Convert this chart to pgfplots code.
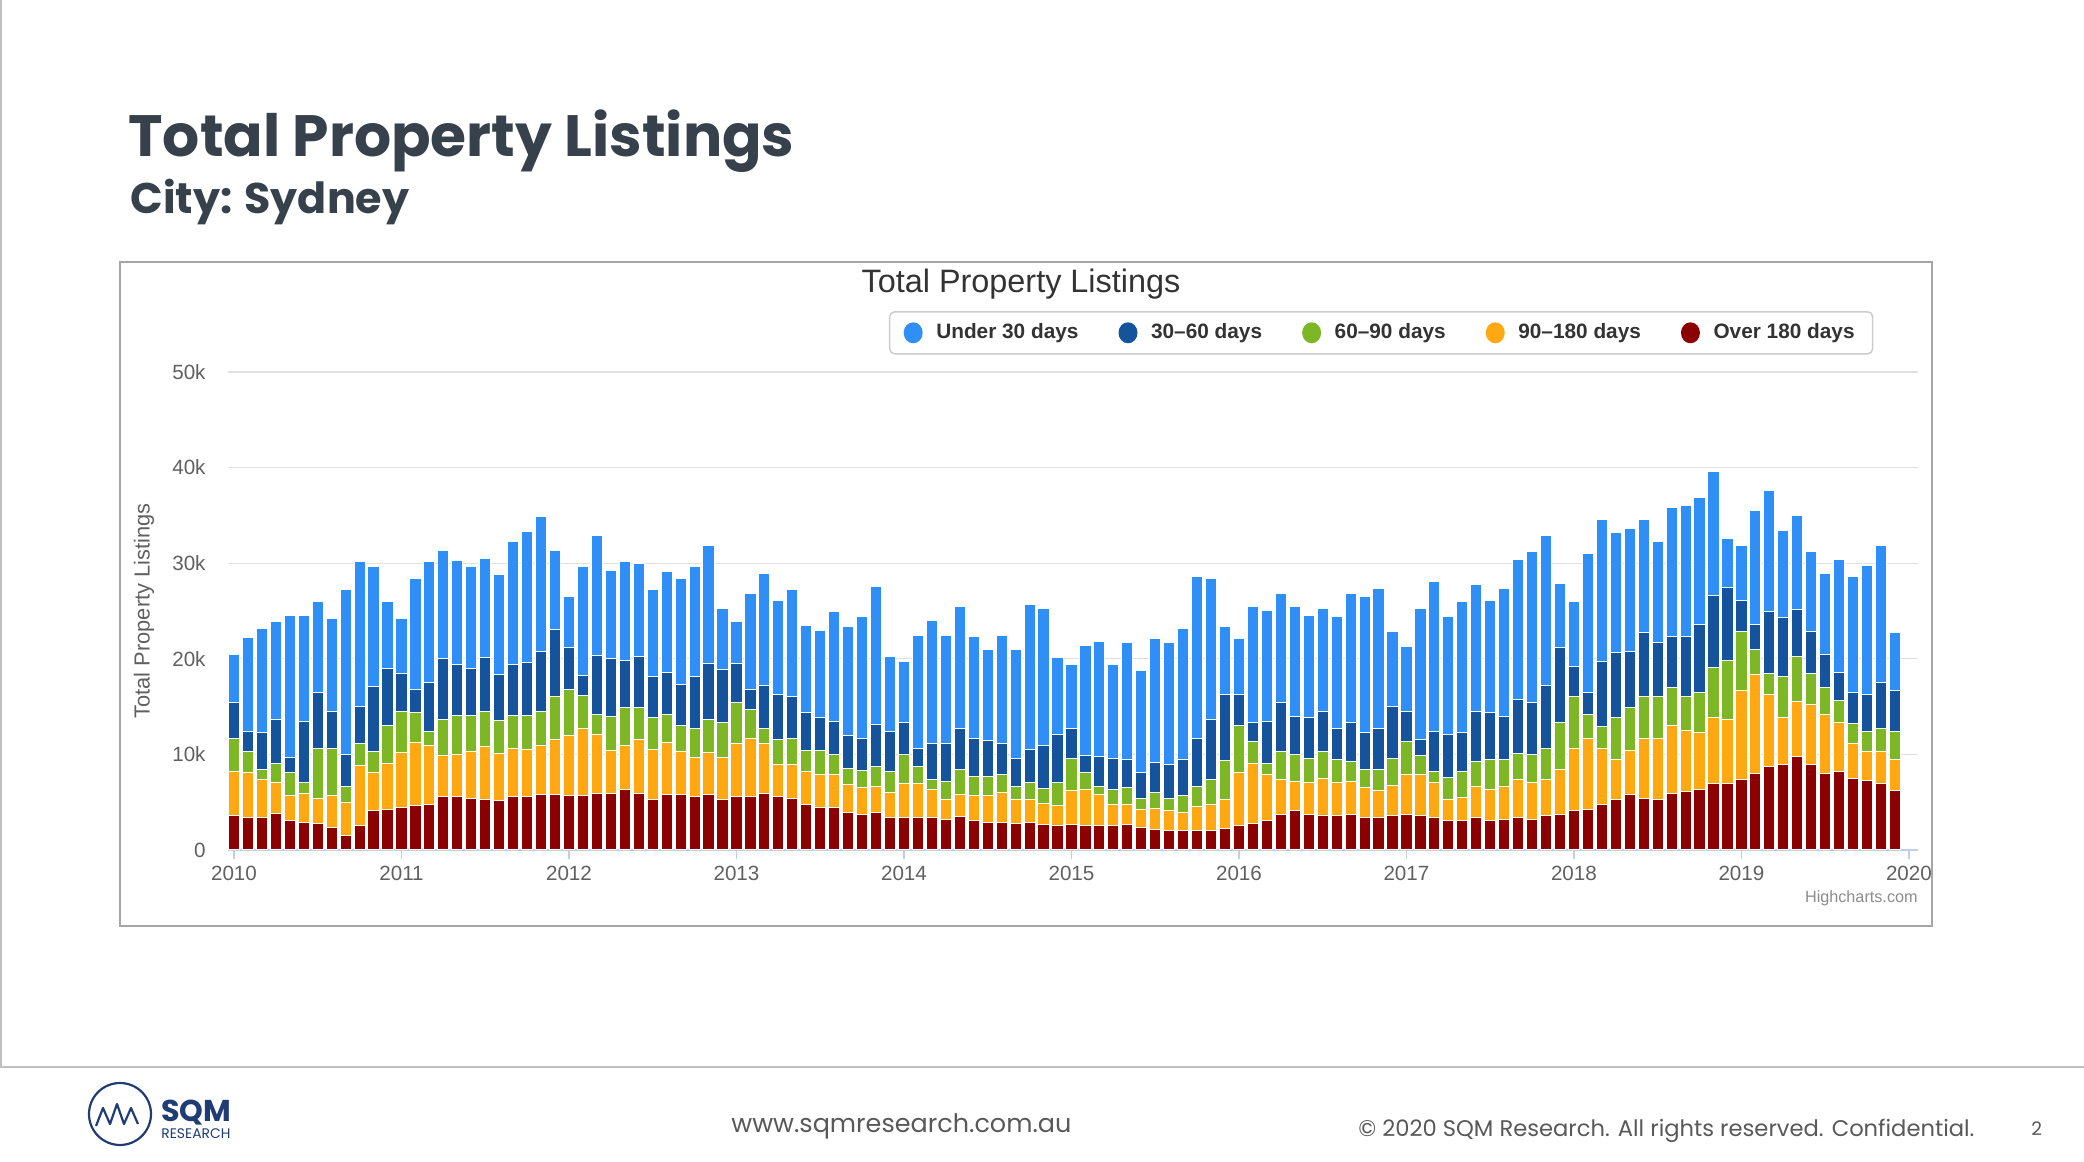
\documentclass[border=0pt]{standalone}
\usepackage{pgfplots}
\pgfplotsset{compat=1.18}
\usepackage{pgfplotstable}
\usepackage{graphicx}
\usepackage{fontspec}
\setmainfont{Liberation Sans}
\newfontfamily\slidefont{Poppins}
\definecolor{cU}{HTML}{2F8FF7}
\definecolor{cD}{HTML}{15539C}
\definecolor{cG}{HTML}{7DB725}
\definecolor{cO}{HTML}{FFA811}
\definecolor{cR}{HTML}{8B0000}
\definecolor{titlec}{HTML}{36414B}
\definecolor{axisc}{HTML}{C0D0E0}
\definecolor{gridc}{HTML}{E0E0E0}
\definecolor{labelc}{HTML}{606060}
\definecolor{legc}{HTML}{CCCCCC}
\definecolor{navy}{HTML}{1F3C75}
\definecolor{footc}{HTML}{595959}
\definecolor{framec}{HTML}{A6A6A6}

\pgfplotstableread{
x r o g d u
0 3570 4650 3490 3670 5070
1 3390 4720 2200 2100 9790
2 3390 4020 980 3850 10940
3 3780 3280 1960 4620 10240
4 3080 2650 2380 1580 14890
5 2870 3000 1190 6400 11120
6 2730 2620 5310 5770 9550
7 2380 3280 5000 3850 9720
8 1500 3470 1670 3330 17230
9 2550 6260 2380 3840 15110
10 4090 4020 2200 6820 12490
11 4270 4750 3980 5950 7030
12 4440 5770 4300 3920 5800
13 4620 6640 3080 2440 11650
14 4790 6120 1500 5140 12620
15 5590 4270 3780 6360 11360
16 5590 4440 4030 5350 10900
17 5420 4890 3750 4890 10670
18 5310 5530 3670 5590 10420
19 5140 5000 3390 4830 10420
20 5590 5070 3400 5350 12830
21 5590 4900 3570 5590 13640
22 5770 5140 3600 6290 14060
23 5770 5840 4470 7000 8280
24 5660 6300 4820 4370 5350
25 5660 7100 3390 2100 11400
26 5940 6190 2030 6190 12520
27 5940 4440 3610 6010 9270
28 6290 4620 3950 5000 10280
29 5940 5670 3250 5350 9790
30 5310 5250 3250 4300 9090
31 5770 5490 2900 4440 10490
32 5770 4540 2690 4310 11120
33 5590 4100 3070 5350 11540
34 5770 4440 3430 5840 12410
35 5240 4450 3600 5590 6400
36 5590 5600 4190 4100 4400
37 5590 6120 2980 2090 10070
38 5940 5250 1570 4480 11710
39 5590 3330 2690 4650 9890
40 5420 3500 2790 4370 11120
41 4790 3430 2160 4030 9120
42 4440 3500 2440 3500 9120
43 4440 3500 2090 3430 11470
44 3920 2970 1680 3390 11400
45 3740 2800 1750 3420 12700
46 3920 2720 2100 4370 14440
47 3390 2620 2210 4190 7870
48 3390 3600 2980 3320 6470
49 3390 3600 1750 1920 11820
50 3390 2900 1050 3780 12900
51 3220 2090 1860 4020 11290
52 3500 2270 2620 4370 12690
53 3040 2620 2030 4020 10600
54 2870 2790 2030 3740 9550
55 2870 3140 1860 3320 11290
56 2730 2510 1400 2980 11360
57 2870 2440 1750 3430 15140
58 2690 2210 1570 4440 14370
59 2520 2100 2440 5000 8040
60 2690 3500 3430 3140 6650
61 2520 3840 1750 1750 11570
62 2520 3320 800 3150 12060
63 2520 2270 1570 3260 9790
64 2690 2100 1750 2900 12240
65 2380 1820 1220 2690 10700
66 2170 2200 1640 3150 12970
67 2030 2100 1290 3500 12760
68 2030 1890 1740 3780 13740
69 2030 2520 2090 5070 16890
70 2030 2690 2690 6230 14790
71 2270 3040 4030 6920 7100
72 2520 5590 4890 3260 5870
73 2730 6360 2270 1930 12160
74 3040 4830 1220 4370 11640
75 3740 3600 2970 5070 11470
76 4090 3080 2860 3960 11460
77 3740 3320 2560 4190 10770
78 3570 3950 2790 4200 10770
79 3570 3490 2450 3250 11650
80 3740 3430 2100 4020 13560
81 3390 3150 1850 3920 14190
82 3390 2800 2200 4370 14620
83 3570 3140 2910 5410 7800
84 3740 4130 3490 3150 6820
85 3570 4300 1990 1750 13670
86 3390 3670 1160 4190 15630
87 3040 2270 2280 4470 12350
88 3040 2450 2730 4020 13740
89 3390 3250 2630 5240 13220
90 3040 3320 3080 4900 11810
91 3220 3420 2800 4550 13390
92 3390 3950 2800 5590 14620
93 3220 3840 2910 5410 15810
94 3570 3840 3250 6540 15740
95 3740 4720 4830 7860 6750
96 4090 6570 5420 3150 6750
97 4270 7440 2450 2340 14510
98 4720 5940 2280 6820 14860
99 5240 4270 4300 6820 12590
100 5770 4610 4480 5940 12840
101 5420 6290 4370 6650 11890
102 5240 6470 4370 5600 10560
103 5940 7060 3960 5420 13460
104 6120 6360 3600 6300 13630
105 6290 5950 4260 7100 13290
106 6990 6820 5320 7440 13050
107 6990 6650 6220 7590 5140
108 7340 9370 6190 3250 5740
109 8040 10320 2620 2620 11890
110 8740 7520 2200 6440 12690
111 8920 4890 4300 6190 9160
112 9790 5770 4650 4960 9800
113 8920 6290 3250 4440 8290
114 8040 6120 2800 3490 8500
115 8220 5070 2370 2940 11750
116 7520 3670 2030 3280 12100
117 7270 3040 2100 3850 13530
118 6990 3320 2450 4790 14340
119 6190 3320 2900 4300 6020
}\listings

\begin{document}
\begin{tikzpicture}
\path[use as bounding box] (0,0) rectangle (1042pt,581pt);
\fill[white] (0,0) rectangle (1042pt,581pt);
\begin{scope}[shift={(0pt,581pt)}, x=0.5pt, y=-0.5pt]
  % slide frame lines
  \draw[color=black!25, line width=0.6pt] (1,0) -- (1,1067);
  \draw[color=black!25, line width=0.9pt] (0,1067) -- (2084,1067);
  % slide title
  \node[anchor=base west, inner sep=0pt, text=titlec] at (128,157)
    {\resizebox{333pt}{!}{\slidefont\bfseries Total Property Listings}};
  \node[anchor=base west, inner sep=0pt, text=titlec] at (130,214)
    {\resizebox{139.5pt}{!}{\slidefont\bfseries City: Sydney}};
  % chart frame
  \draw[framec, line width=0.9pt] (120,262) rectangle (1932,926);
  % chart title
  \node[anchor=base, inner sep=0pt, text=black!80] at (1021,293)
    {\fontsize{16.2}{18}\selectfont Total Property Listings};
  \node[anchor=base east, inner sep=0pt, text=black!45] at (1918,903)
    {\fontsize{8.1}{9}\selectfont Highcharts.com};
  % footer
  \draw[navy, line width=1.1pt] (120,1114) circle (15.5pt);
  \draw[navy, line width=1.1pt, line join=round]
    (96,1126) -- (103,1108) -- (110,1124) -- (117,1104) -- (124,1124) -- (131,1108) -- (138,1124);
  \node[anchor=base west, inner sep=0pt, text=navy] at (161,1122)
    {\resizebox{35pt}{!}{\slidefont\bfseries SQM}};
  \node[anchor=base west, inner sep=0pt, text=navy] at (161,1139)
    {\resizebox{34.5pt}{!}{\slidefont RESEARCH}};
  \node[anchor=base west, inner sep=0pt, text=footc] at (731,1133)
    {\resizebox{170pt}{!}{\slidefont www.sqmresearch.com.au}};
  \node[anchor=base west, inner sep=0pt, text=footc] at (1358,1137)
    {\resizebox{308pt}{!}{\slidefont \textcopyright\ 2020 SQM Research. All rights reserved. Confidential.}};
  \node[anchor=base west, inner sep=0pt, text=footc] at (2031,1136)
    {\slidefont\fontsize{9.3}{11}\selectfont 2};
\end{scope}

\begin{axis}[
  at={(114pt,156pt)}, anchor=south west,
  scale only axis, width=845pt, height=239pt,
  xmin=-0.43, xmax=120.65, ymin=0, ymax=50000,
  ybar stacked, bar width=0.8,
  axis x line*=bottom, axis y line*=left,
  x axis line style={-, draw=axisc, line width=0.75pt},
  y axis line style={draw=none},
  xtick={0,12,24,36,48,60,72,84,96,108,120},
  xticklabels={2010,2011,2012,2013,2014,2015,2016,2017,2018,2019,2020},
  xtick align=outside,
  x tick style={draw=axisc, line width=0.75pt},
  major tick length=4.5pt,
  ytick={0,10000,20000,30000,40000,50000},
  yticklabels={0,10k,20k,30k,40k,50k},
  scaled y ticks=false,
  y tick style={draw=none},
  ymajorgrids, y grid style={draw=gridc, line width=0.6pt},
  tick label style={font=\fontsize{10.3}{12}\selectfont, text=labelc},
  yticklabel style={xshift=-7.7pt},
  ylabel={Total Property Listings},
  every axis y label/.style={at={(axis description cs:-0.0497,0.5)}, rotate=90, anchor=center, font=\fontsize{10.9}{12}\selectfont, text=labelc},
  legend columns=5, reverse legend,
  legend style={at={(axis description cs:0.3911,1.1276)}, anchor=north west,
    draw=legc, line width=0.75pt, rounded corners=2.5pt,
    font=\bfseries\fontsize{10.4}{12}\selectfont, text=black!80,
    inner xsep=7pt, inner ysep=4pt,
    /tikz/every even column/.append style={column sep=18pt},
    /tikz/every odd column/.append style={column sep=4.8pt}},
  legend image code/.code={\fill[#1,draw=none] (0pt,0pt) ellipse (4.75pt and 5.25pt);},
  every axis plot/.append style={draw=white, line width=0.5pt},
]
\addplot[fill=cR] table[x=x,y=r]{\listings};
\addplot[fill=cO] table[x=x,y=o]{\listings};
\addplot[fill=cG] table[x=x,y=g]{\listings};
\addplot[fill=cD] table[x=x,y=d]{\listings};
\addplot[fill=cU] table[x=x,y=u]{\listings};
\legend{Over 180 days,90--180 days,60--90 days,30--60 days,Under 30 days}
\end{axis}
\end{tikzpicture}
\end{document}
